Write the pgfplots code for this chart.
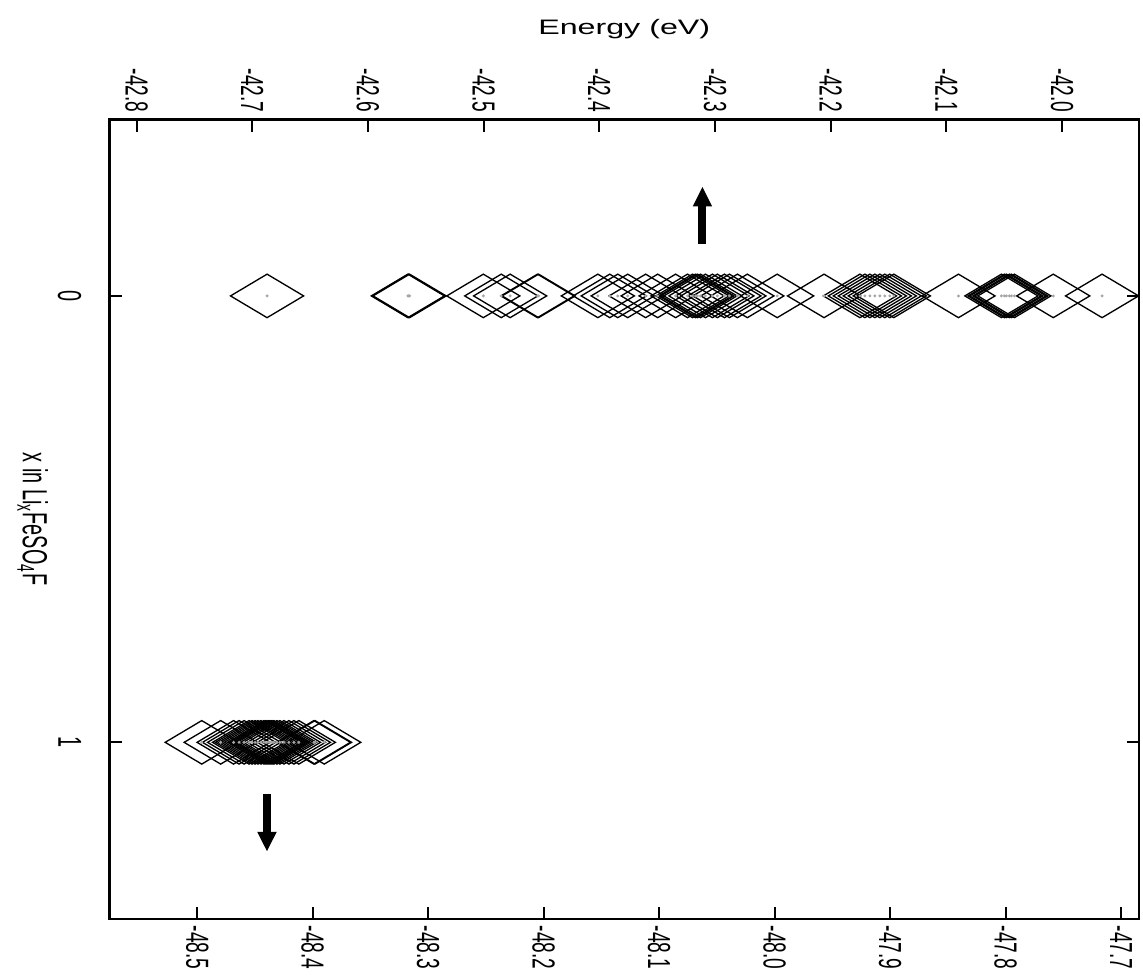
\documentclass[border=0pt]{standalone}
\usepackage{fontspec}
\setmainfont{Liberation Sans}
\usepackage{pgfplots}
\usepackage{pgfplotstable}
\pgfplotsset{compat=1.18}
\usetikzlibrary{arrows.meta}

% energies of the sites, x = 0 (upper scale) and x = 1 (lower scale)
\pgfplotstableread{
E x
-42.6872 0
-42.5655 0
-42.5649 0
-42.5640 0
-42.5003 0
-42.4848 0
-42.4771 0
-42.4535 0
-42.4525 0
-42.4013 0
-42.3910 0
-42.3841 0
-42.3755 0
-42.3600 0
-42.3496 0
-42.3341 0
-42.3238 0
-42.3195 0
-42.3169 0
-42.3152 0
-42.3126 0
-42.3083 0
-42.3023 0
-42.2980 0
-42.2919 0
-42.2876 0
-42.2807 0
-42.2721 0
-42.2463 0
-42.2058 0
-42.1748 0
-42.1705 0
-42.1662 0
-42.1619 0
-42.1576 0
-42.1533 0
-42.1490 0
-42.1455 0
-42.0896 0
-42.0525 0
-42.0499 0
-42.0482 0
-42.0456 0
-42.0439 0
-42.0413 0
-42.0077 0
-41.9655 0
}\xzero

\pgfplotstableread{
E x
-48.4961 1
-48.4797 1
-48.4685 1
-48.4638 1
-48.4594 1
-48.4551 1
-48.4525 1
-48.4499 1
-48.4474 1
-48.4448 1
-48.4422 1
-48.4405 1
-48.4387 1
-48.4370 1
-48.4353 1
-48.4336 1
-48.4310 1
-48.4284 1
-48.4249 1
-48.4206 1
-48.4163 1
-48.4120 1
-48.3990 1
-48.3980 1
-48.3900 1
}\xone

\pgfplotsset{
  myaxis/.style={
    scale only axis, width=309.9pt, height=240.6pt,
    ymin=-0.395, ymax=1.395, y dir=reverse,
    axis line style={line width=0.7pt},
    tick align=inside, major tick length=3.6pt,
    tick style={line width=0.6pt, black},
    /pgf/number format/assume math mode=true,
    xticklabel style={font=\fontsize{9.6}{11}\selectfont},
  },
  site/.style={only marks, mark=diamond, mark size=6.55pt,
    mark options={xscale=2.24, line width=0.4pt, draw=black}},
  dot/.style={only marks, mark=*, mark size=0.2pt, gray!70},
}

\begin{document}
\begin{tikzpicture}
\begin{axis}[myaxis, name=ax,
  xmin=-42.8233, xmax=-41.9337,
  xtick={-42.8,-42.7,-42.6,-42.5,-42.4,-42.3,-42.2,-42.1,-42.0},
  xticklabels={-42.8,-42.7,-42.6,-42.5,-42.4,-42.3,-42.2,-42.1,-42.0},
  xtick pos=right, xticklabel pos=right,
  xticklabel style={rotate=-90, anchor=east, xscale=0.6},
  xlabel={Energy (eV)},
  xlabel style={at={(axis description cs:0.5,1.106)}, anchor=base,
    font=\fontsize{6.3}{8}\selectfont, xscale=1.54},
  ytick={0,1}, ytick pos=both, yticklabel pos=left,
  yticklabel style={rotate=-90, anchor=north, xscale=0.6,
    font=\fontsize{10}{12}\selectfont},
  yticklabel shift=5pt,
  ylabel={x in Li\textsubscript{x}FeSO\textsubscript{4}F},
  ylabel style={at={(axis description cs:-0.0842,0.5)}, anchor=base,
    rotate=180, xscale=0.57, font=\fontsize{10.5}{12}\selectfont},
]
\addplot[site] table[x=E, y=x] {\xzero};
\addplot[dot] table[x=E, y=x] {\xzero};
\draw[-{Triangle[width=5.4pt,length=6pt]}, line width=2.4pt]
  (axis cs:-42.3109,-0.116) -- (axis cs:-42.3109,-0.245);
\end{axis}
\begin{axis}[myaxis,
  xmin=-48.5759, xmax=-47.6845,
  xtick={-48.5,-48.4,-48.3,-48.2,-48.1,-48.0,-47.9,-47.8,-47.7},
  xticklabels={-48.5,-48.4,-48.3,-48.2,-48.1,-48.0,-47.9,-47.8,-47.7},
  xtick pos=left, xticklabel pos=left,
  xticklabel style={rotate=-90, anchor=west, xscale=0.6},
  ytick=\empty,
]
\addplot[site] table[x=E, y=x] {\xone};
\addplot[dot] table[x=E, y=x] {\xone};
\draw[-{Triangle[width=5.4pt,length=6pt]}, line width=2.4pt]
  (axis cs:-48.4396,1.116) -- (axis cs:-48.4396,1.245);
\end{axis}
\path ([xshift=-33pt,yshift=-18.3pt]ax.south west) rectangle ([yshift=36pt]ax.north east);
\end{tikzpicture}
\end{document}
